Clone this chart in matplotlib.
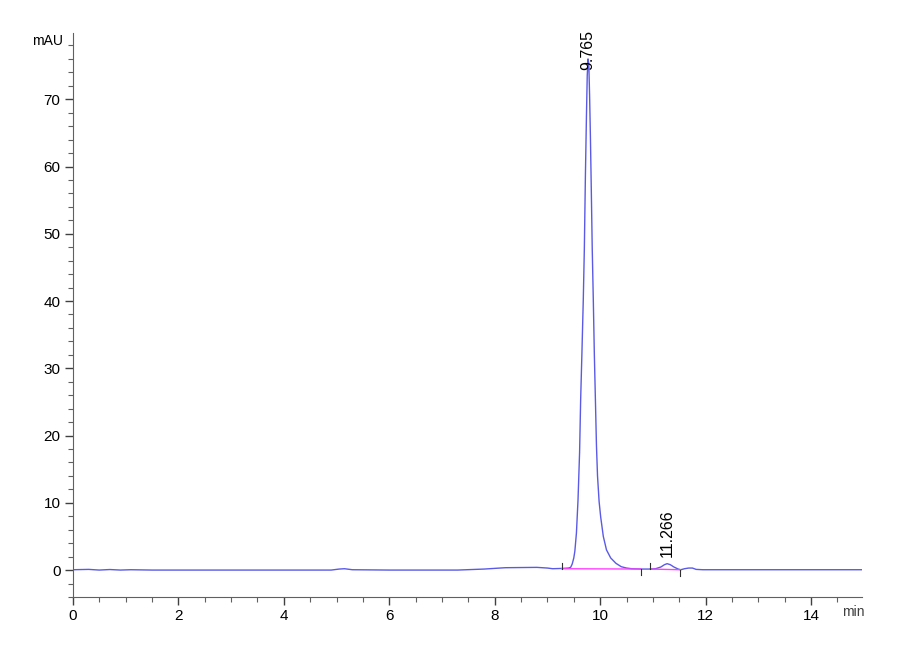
import matplotlib
matplotlib.use("Agg")
import matplotlib.pyplot as plt
from matplotlib.ticker import MultipleLocator

# chromatogram trace (min, mAU)
time_min = [0.0, 0.3, 0.5, 0.7, 0.9, 1.1, 1.5, 3.0, 4.9, 5.05, 5.15, 5.3, 6.0,
            7.3, 7.8, 8.2, 8.8, 9.0, 9.1, 9.3, 9.4,
            9.44, 9.47, 9.50, 9.52, 9.55, 9.58, 9.61, 9.63, 9.655, 9.68, 9.70,
            9.72, 9.74, 9.755, 9.77, 9.785, 9.80, 9.815, 9.83, 9.85, 9.87,
            9.89, 9.91, 9.93, 9.95, 9.98, 10.01, 10.06, 10.12, 10.20, 10.30,
            10.40, 10.50, 10.60, 10.80, 10.95, 11.05, 11.15, 11.22, 11.27,
            11.33, 11.40, 11.48, 11.53, 11.60, 11.68, 11.75, 11.82, 11.95,
            12.5, 15.0]
signal_mau = [0.05, 0.1, 0.0, 0.08, 0.0, 0.05, 0.0, 0.0, 0.0, 0.15, 0.2, 0.05, 0.0,
              0.0, 0.15, 0.35, 0.4, 0.3, 0.2, 0.25, 0.3,
              0.4, 0.9, 1.8, 2.8, 5.5, 10.4, 17.5, 25.3, 32.5, 40.2, 47.7,
              58.5, 67.5, 73.5, 76.0, 75.2, 70.5, 64.5, 57.5, 47.7, 40.2,
              32.0, 25.3, 18.5, 14.0, 10.2, 7.9, 5.0, 3.0, 1.8, 1.0,
              0.5, 0.3, 0.2, 0.15, 0.15, 0.2, 0.45, 0.8, 0.95,
              0.8, 0.45, 0.15, 0.05, 0.2, 0.3, 0.3, 0.1, 0.05,
              0.05, 0.05]

# integration baselines (start, end) and their levels
base_t = [[9.27, 10.77], [10.94, 11.52]]
base_y = [[0.2, 0.15], [0.15, 0.05]]
# peak start / end markers: time, level, direction (+1 above, -1 below)
mark_t = [9.27, 10.77, 10.94, 11.52]
mark_y = [0.2, 0.15, 0.15, 0.05]
mark_dir = [1, -1, 1, -1]

peak_rt = [9.765, 11.266]
peak_label_y = [74.3, 1.9]
peak_labels = ["9.765", "11.266"]

plt.rcParams['font.family'] = ['Liberation Sans Narrow', 'Liberation Sans', 'DejaVu Sans']

fig = plt.figure(figsize=(9, 6.6), dpi=100)
ax = fig.add_axes([0.081, 0.0955, 0.877, 0.855])

ax.plot(time_min, signal_mau, color='#5a5ae6', linewidth=1.0)

for bt, by in zip(base_t, base_y):
    ax.plot(bt, by, color='#ff40ff', linewidth=1.0)
for t, y, d in zip(mark_t, mark_y, mark_dir):
    ax.plot([t, t], [y, y + d * 0.9], color='#303030', linewidth=0.8)

for rt, ly, lab in zip(peak_rt, peak_label_y, peak_labels):
    ax.text(rt, ly, lab, rotation=90, ha='center', va='bottom',
            fontsize=11.5, family=['Liberation Sans', 'DejaVu Sans'])

ax.set_xlim(0, 14.97)
ax.set_ylim(-4, 79.9)
ax.xaxis.set_major_locator(MultipleLocator(2))
ax.xaxis.set_minor_locator(MultipleLocator(0.5))
ax.yaxis.set_major_locator(MultipleLocator(10))
ax.yaxis.set_minor_locator(MultipleLocator(2))

for side in ['top', 'right']:
    ax.spines[side].set_visible(False)
for side in ['left', 'bottom']:
    ax.spines[side].set_color('#606060')
    ax.spines[side].set_linewidth(0.8)

ax.tick_params(which='major', direction='out', length=6, width=1.0,
               color='#404040', labelsize=11, pad=3)
ax.tick_params(which='minor', direction='out', length=3.5, width=0.8,
               color='#606060')

ax.text(-0.012, 0.985, "mAU", transform=ax.transAxes, ha='right', va='center',
        fontsize=10)
ax.text(0.975, -0.027, "min", transform=ax.transAxes, ha='left', va='center',
        fontsize=10, color='#404040')

fig.savefig("out.png", dpi=100)
